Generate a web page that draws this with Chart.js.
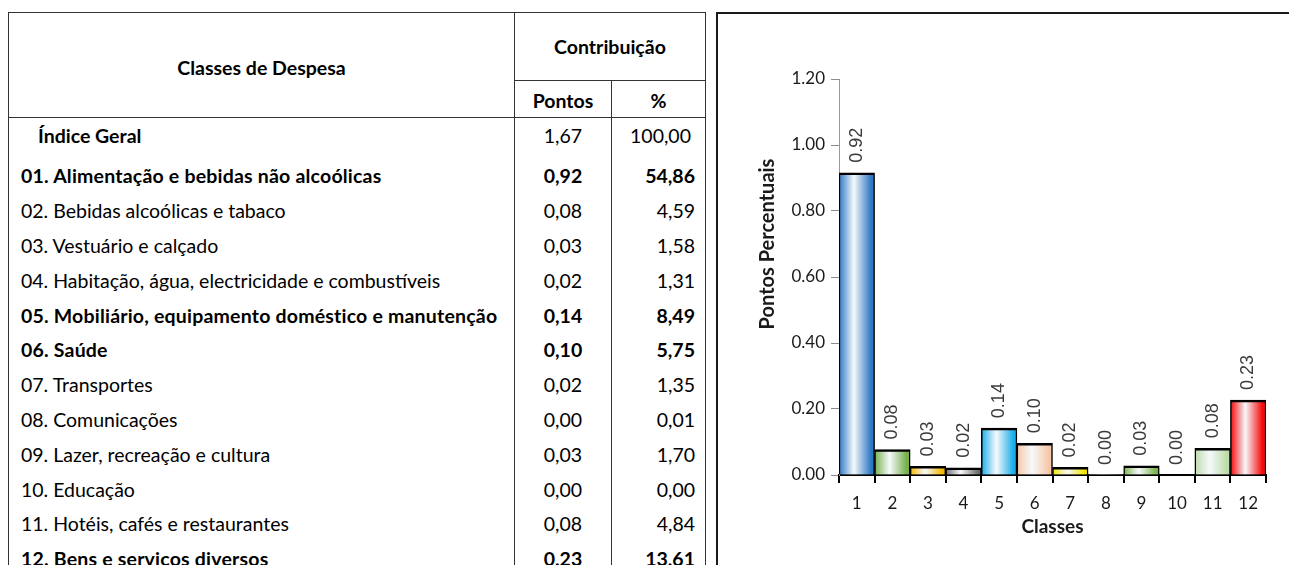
<!DOCTYPE html>
<html>
<head>
<meta charset="utf-8">
<script src="https://cdn.jsdelivr.net/npm/chart.js@4.4.1/dist/chart.umd.min.js"></script>
<style>
  html, body { margin: 0; padding: 0; background: #fff; }
  body { width: 1289px; height: 565px; overflow: hidden; position: relative; font-family: Lato, "Open Sans", sans-serif; color: #000; }
  #tbl { position: absolute; left: 8px; top: 12px; border-collapse: collapse; table-layout: fixed; width: 697px; font-size: 19.5px; }
  #tbl td { padding: 0; border-left: 1px solid #333; border-right: 1px solid #333; white-space: nowrap; overflow: hidden; }
  #tbl tr.head td { border-top: 1px solid #333; border-bottom: 1px solid #333; font-weight: bold; text-align: center; }
  #tbl td.name { padding-left: 12px; }
  #tbl td.pts { text-align: center; }
  #tbl td.pct { text-align: right; padding-right: 10px; }
  #tbl tr.bold td { font-weight: bold; }
  #tbl tr.bold td.name { letter-spacing: 0.2px; }
  #tbl tr.first td.name { font-weight: bold; padding-left: 29px; padding-bottom: 6px; }
  #tbl tr.first td.pts, #tbl tr.first td.pct { padding-bottom: 6px; }
  #panel { position: absolute; left: 716px; top: 12px; width: 700px; height: 700px; border: 2px solid #1a1a1a; box-sizing: border-box; }
  #wrap { position: absolute; left: 718px; top: 14px; width: 571px; height: 551px; }
</style>
</head>
<body>
<table id="tbl">
  <colgroup><col style="width:506px"><col style="width:97px"><col style="width:94px"></colgroup>
  <tbody id="tbody">
    <tr class="head" style="height:68px"><td rowspan="2" style="padding-top:4px">Classes de Despesa</td><td colspan="2">Contribuição</td></tr>
    <tr class="head" style="height:37px"><td style="padding-top:3px">Pontos</td><td style="padding-top:3px">%</td></tr>
  </tbody>
</table>
<div id="panel"></div>
<div id="wrap"><canvas id="chart"></canvas></div>
<script>
// table rows
const tableClasses = [
  "Índice Geral",
  "01. Alimentação e bebidas não alcoólicas",
  "02. Bebidas alcoólicas e tabaco",
  "03. Vestuário e calçado",
  "04. Habitação, água, electricidade e combustíveis",
  "05. Mobiliário, equipamento doméstico e manutenção",
  "06. Saúde",
  "07. Transportes",
  "08. Comunicações",
  "09. Lazer, recreação e cultura",
  "10. Educação",
  "11. Hotéis, cafés e restaurantes",
  "12. Bens e serviços diversos"
];
const tablePontos = ["1,67", "0,92", "0,08", "0,03", "0,02", "0,14", "0,10", "0,02", "0,00", "0,03", "0,00", "0,08", "0,23"];
const tablePct = ["100,00", "54,86", "4,59", "1,58", "1,31", "8,49", "5,75", "1,35", "0,01", "1,70", "0,00", "4,84", "13,61"];
const boldRows = [1, 5, 6, 12];

// chart
const classLabels = ["1", "2", "3", "4", "5", "6", "7", "8", "9", "10", "11", "12"];
const barValues = [0.916, 0.077, 0.026, 0.022, 0.142, 0.096, 0.023, 0.0002, 0.028, 0, 0.081, 0.227];
const barColors = ["#2e78c4", "#77b04c", "#f5b800", "#6f6f6f", "#1aaeea", "#f6c7a8", "#f2e600", "#9a9a9a", "#7cb54e", "#9a9a9a", "#bcdcaa", "#f50a0a"];
const yTicks = [0, 0.2, 0.4, 0.6, 0.8, 1.0, 1.2];
const yTitle = "Pontos Percentuais";

const tbody = document.getElementById("tbody");
tableClasses.forEach((name, i) => {
  const tr = document.createElement("tr");
  tr.style.height = i === 0 ? "41px" : "34.8px";
  if (i === 0) tr.className = "first";
  else if (boldRows.includes(i)) tr.className = "bold";
  const pctPad = i === 0 ? ' style="padding-right:14px"' : "";
  tr.innerHTML = `<td class="name">${name}</td><td class="pts">${tablePontos[i]}</td><td class="pct"${pctPad}>${tablePct[i]}</td>`;
  tbody.appendChild(tr);
});

function barFill(ctx) {
  const chart = ctx.chart;
  const i = ctx.dataIndex;
  const xs = chart.scales.x;
  const base = barColors[i] || "#999";
  if (!chart.chartArea || !xs) return base;
  const cx = xs.getPixelForValue(i);
  const half = (xs.getPixelForValue(1) - xs.getPixelForValue(0)) / 2;
  if (!isFinite(cx) || !isFinite(half) || half <= 0) return base;
  const g = chart.ctx.createLinearGradient(cx - half, 0, cx + half, 0);
  g.addColorStop(0, base);
  g.addColorStop(0.42, "#f6f9fc");
  g.addColorStop(0.9, base);
  g.addColorStop(1, base);
  return g;
}

// rotated value labels above the bars
const valueLabels = {
  id: "valueLabels",
  afterDatasetsDraw(chart) {
    const ctx = chart.ctx;
    const meta = chart.getDatasetMeta(0);
    ctx.save();
    ctx.font = '18px "Liberation Sans", Arial, sans-serif';
    ctx.fillStyle = "#3a3a3a";
    ctx.textAlign = "left";
    ctx.textBaseline = "middle";
    meta.data.forEach((bar, i) => {
      ctx.save();
      ctx.translate(bar.x, bar.y - 10);
      ctx.rotate(-Math.PI / 2);
      ctx.fillText(barValues[i].toFixed(2), 0, 0);
      ctx.restore();
    });
    ctx.restore();
  }
};

// y title sits a bit above the axis middle in the original
const yTitlePlugin = {
  id: "yTitle",
  afterDraw(chart) {
    const ctx = chart.ctx;
    const ys = chart.scales.y;
    ctx.save();
    ctx.font = 'bold 20px Lato, sans-serif';
    ctx.fillStyle = "#1a1a1a";
    ctx.textAlign = "center";
    ctx.textBaseline = "middle";
    ctx.translate(ys.left + 14, ys.getPixelForValue(0.7));
    ctx.rotate(-Math.PI / 2);
    ctx.fillText(yTitle, 0, 0);
    ctx.restore();
  }
};

new Chart(document.getElementById("chart"), {
  type: "bar",
  data: {
    labels: classLabels,
    datasets: [{
      data: barValues,
      backgroundColor: barFill,
      borderColor: "#000",
      borderWidth: { top: 2.5, left: 1.5, right: 1.5, bottom: 0 },
      borderSkipped: "start",
      barPercentage: 1,
      categoryPercentage: 1
    }]
  },
  options: {
    responsive: true,
    maintainAspectRatio: false,
    animation: false,
    layout: { padding: { left: 36, right: 23, top: 65, bottom: 27 } },
    plugins: { legend: { display: false }, tooltip: { enabled: false } },
    scales: {
      x: {
        grid: { display: true, drawOnChartArea: false, tickLength: 8, tickColor: "#000", lineWidth: 2 },
        border: { color: "#000", width: 2 },
        ticks: { color: "#1a1a1a", font: { family: "Lato", size: 17 }, padding: 10, maxRotation: 0 },
        title: { display: true, text: "Classes", color: "#1a1a1a", font: { family: "Lato", size: 19, weight: "bold" }, padding: 0 },
        afterFit: (s) => { s.height = 63; }
      },
      y: {
        min: 0,
        max: 1.2,
        afterBuildTicks: (s) => { s.ticks = yTicks.map(v => ({ value: v })); },
        grid: { display: true, drawOnChartArea: false, tickLength: 8, tickColor: "#8c8c8c", lineWidth: 1 },
        border: { color: "#9a9a9a", width: 1 },
        ticks: { color: "#1a1a1a", font: { family: "Lato", size: 17 }, padding: 6, callback: (v) => Number(v).toFixed(2) },
        title: { display: false },
        afterFit: (s) => { s.width = 85; }
      }
    }
  },
  plugins: [valueLabels, yTitlePlugin]
});
</script>
</body>
</html>
